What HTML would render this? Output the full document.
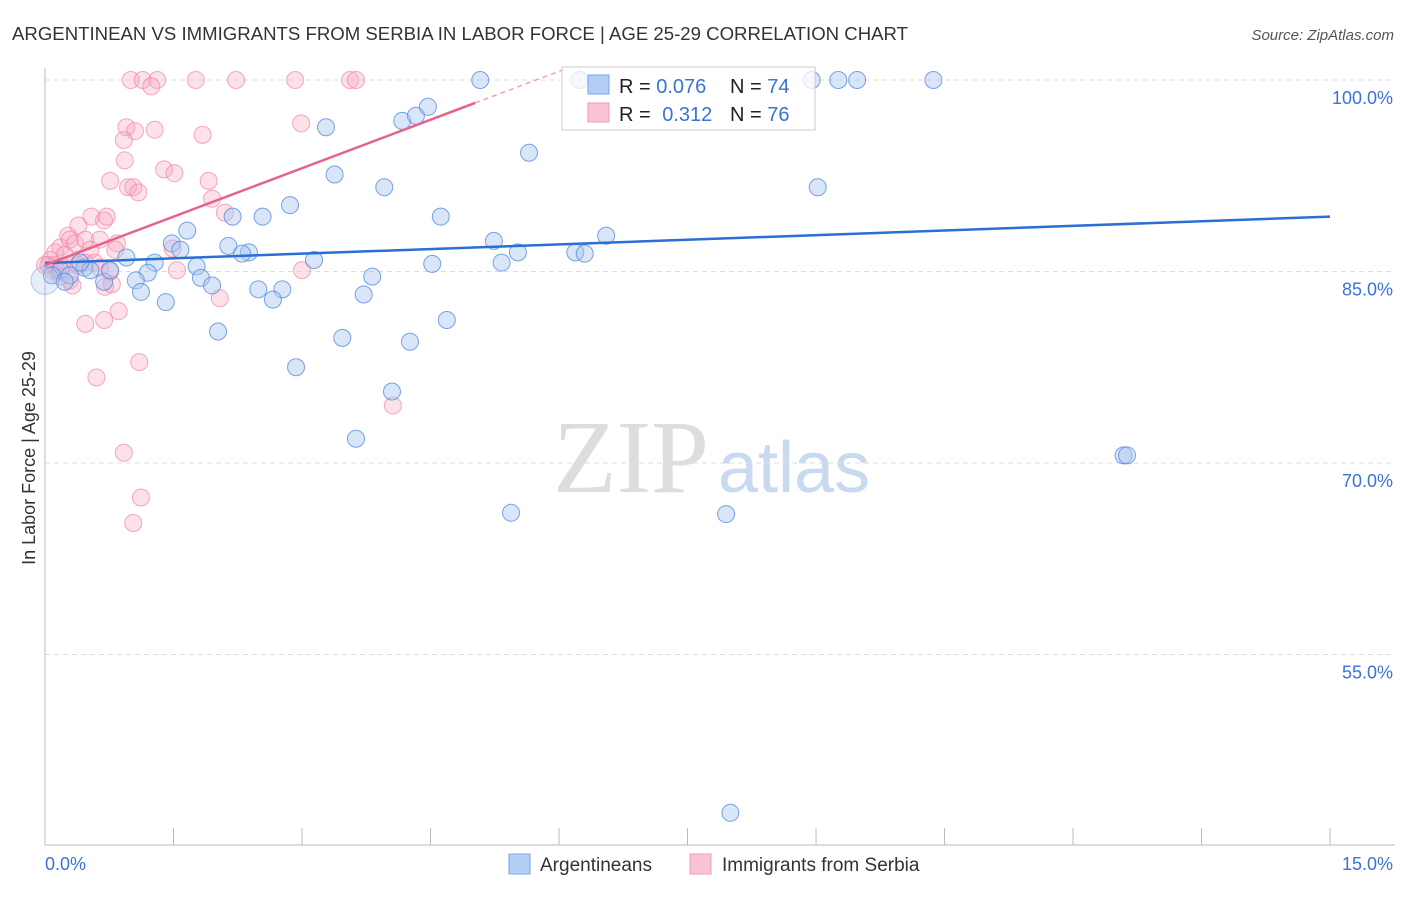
<!DOCTYPE html>
<html><head><meta charset="utf-8"><style>
body{margin:0;background:#fff;font-family:"Liberation Sans",sans-serif}
svg text{font-family:"Liberation Sans",sans-serif}
</style></head><body>
<svg id="chart" width="1406" height="892">
<text x="12" y="40" font-size="18" fill="#333" textLength="896" lengthAdjust="spacingAndGlyphs">ARGENTINEAN VS IMMIGRANTS FROM SERBIA IN LABOR FORCE | AGE 25-29 CORRELATION CHART</text>
<text x="1394" y="40" font-size="15" fill="#555" font-style="italic" text-anchor="end">Source: ZipAtlas.com</text>
<text x="35" y="458" font-size="18" fill="#333" text-anchor="middle" transform="rotate(-90 35 458)">In Labor Force | Age 25-29</text>
<text x="553" y="492" font-size="104" fill="#ddd" style="font-family:'Liberation Serif',serif">ZIP</text>
<text x="718" y="492" font-size="72" fill="#c9d9ef">atlas</text>
<g id="grid"></g><g id="pts"></g><g id="lines"></g>
<g>
<rect x="562" y="67" width="253" height="63" fill="#fff" fill-opacity="0.75" stroke="#ccc"/>
<rect x="588" y="75" width="21" height="19" fill="#b3cff5" stroke="#7aa6e6"/>
<rect x="588" y="103" width="21" height="19" fill="#fac4d4" stroke="#f09ab4"/>
<text x="619" y="93" font-size="20" fill="#222">R = <tspan fill="#3a72d8">0.076</tspan></text>
<text x="730" y="93" font-size="20" fill="#222">N = <tspan fill="#3a72d8">74</tspan></text>
<text x="619" y="121" font-size="20" fill="#222">R = <tspan dx="6" fill="#3a72d8">0.312</tspan></text>
<text x="730" y="121" font-size="20" fill="#222">N = <tspan fill="#3a72d8">76</tspan></text>
</g>
<g>
<rect x="509" y="854" width="21" height="20" fill="#b3cff5" stroke="#7aa6e6"/>
<text x="540" y="871" font-size="19" fill="#333">Argentineans</text>
<rect x="690" y="854" width="21" height="20" fill="#fac4d4" stroke="#f09ab4"/>
<text x="722" y="871" font-size="19" fill="#333">Immigrants from Serbia</text>
</g>
</svg>
<script>
const yTicks=[100,85,70,55];
const xTickLabels=["0.0%","15.0%"];
const blueX=[5.08,6.24,8.95,9.26,9.48,10.37,3.28,4.17,4.33,4.47,5.65,3.38,3.96,9.02,2.86,2.54,2.19,4.62,1.66,1.48,1.58,2.14,2.38,2.30,5.24,5.52,5.33,6.19,6.30,6.55,3.14,4.52,1.28,0.95,1.20,1.77,3.82,1.82,1.06,0.69,1.95,1.12,2.49,2.77,2.66,1.41,3.72,4.69,2.02,3.47,4.26,2.93,4.05,3.63,12.59,12.63,5.44,7.95,8.00,0.18,0.29,0.08,0.46,0.53,0.76,0.23,0.41];
const blueY=[100,100,100,100,100,100,96.3,96.8,97.2,97.9,94.3,92.6,91.6,91.6,90.2,89.3,89.3,89.3,88.2,87.2,86.7,87.0,86.5,86.4,87.4,86.5,85.7,86.5,86.4,87.8,85.9,85.6,85.7,86.1,84.9,85.4,84.6,84.5,84.3,84.2,83.9,83.4,83.6,83.6,82.8,82.6,83.2,81.2,80.3,79.8,79.5,77.5,75.6,71.9,70.6,70.6,66.1,66.0,42.6,85.1,84.7,84.7,85.3,85.1,85.1,84.2,85.7];
const pinkX=[1.00,1.14,1.31,1.76,2.23,2.92,3.56,3.63,1.24,0.95,1.05,1.28,0.92,0.93,1.39,1.51,0.76,0.97,1.03,1.09,1.91,1.84,2.99,1.95,2.10,0.54,0.69,0.72,0.39,0.27,0.18,0.12,0.29,0.35,0.47,0.64,0.84,0.82,0.53,0.23,0.06,0.04,0.12,0.20,0.35,0.47,0.58,0.64,0.15,0.29,0.32,0.70,0.78,1.54,3.00,2.04,1.49,0.86,0.69,0.47,1.10,0.60,4.06,0.92,1.12,1.03,0.39,0.76,0.08,0,0.18];
const pinkY=[100,100,100,100,100,100,100,100,99.5,96.3,96.0,96.1,95.3,93.7,93.0,92.7,92.1,91.6,91.6,91.2,92.1,95.7,96.6,90.7,89.6,89.3,89.0,89.3,88.6,87.8,86.9,86.5,87.5,87.2,87.5,87.5,87.2,86.7,86.7,86.3,85.9,85.5,85.5,85.3,85.7,85.7,85.7,85.3,85.0,84.3,83.9,83.8,84.0,85.1,85.1,82.9,86.8,81.9,81.2,80.9,77.9,76.7,74.5,70.8,67.3,65.3,85.5,85.0,85.1,85.5,84.6];
const blueTrend=[85.67,89.3];
const pinkTrend=[85.5,98.2];
const X=v=>45+v*85.67, Y=v=>80+(100-v)*191.5/15;
const NS="http://www.w3.org/2000/svg";
function mk(t,a,p){const e=document.createElementNS(NS,t);for(const k in a)e.setAttribute(k,a[k]);p.appendChild(e);return e;}
const g=document.getElementById('grid'),svg=document.getElementById('chart');
yTicks.forEach(t=>{
 const l=mk('line',{x1:45,x2:1395,y1:Y(t),y2:Y(t),stroke:'#ddd','stroke-dasharray':'5,4'},g);
 
 
 const tx=mk('text',{x:1393,y:Y(t)+24,'font-size':18,fill:'#3a72d8','text-anchor':'end'},g);
 tx.textContent=t.toFixed(1)+'%';
 
 
});
const ax=mk('line',{x1:45,x2:45,y1:68,y2:845,stroke:'#bbb'},g);


const bx=mk('line',{x1:45,x2:1395,y1:845,y2:845,stroke:'#bbb'},g);


for(let i=0;i<=10;i++){const t=mk('line',{x1:X(i*1.5),x2:X(i*1.5),y1:828,y2:845,stroke:'#bbb'},g);
 
 }
[[0,'start',45],[15,'end',1393]].forEach((d,i)=>{const t=mk('text',{x:d[2],y:870,'font-size':18,fill:'#3a72d8','text-anchor':d[1]},g);t.textContent=xTickLabels[i];
 
 });
const p=document.getElementById('pts');
pinkX.forEach((x,i)=>{const c=mk('circle',{cx:X(x),cy:Y(pinkY[i]),r:8.5,fill:'#f7a8c0','fill-opacity':0.35,stroke:'#ef86a7','stroke-opacity':0.7},p);
 
 });
blueX.forEach((x,i)=>{const c=mk('circle',{cx:X(x),cy:Y(blueY[i]),r:8.5,fill:'#a8c8f0','fill-opacity':0.45,stroke:'#4f86dd','stroke-opacity':0.75},p);
 
 });
const big=mk('circle',{cx:X(0),cy:Y(84.3),r:14,fill:'#a8c8f0','fill-opacity':0.3,stroke:'#4f86dd','stroke-opacity':0.4},p);


const L=document.getElementById('lines');
const bl=mk('line',{x1:X(0),y1:Y(blueTrend[0]),x2:X(15),y2:Y(blueTrend[1]),stroke:'#2a6fd6','stroke-width':2.5},L);


const pe=5.02, slope=(pinkTrend[1]-pinkTrend[0])/pe;
const pl=mk('line',{x1:X(0),y1:Y(pinkTrend[0]),x2:X(pe),y2:Y(pinkTrend[1]),stroke:'#e8608c','stroke-width':2.5},L);


const pd=mk('line',{x1:X(pe),y1:Y(pinkTrend[1]),x2:X(6.1),y2:Y(pinkTrend[0]+slope*6.1),stroke:'#f0a0ba','stroke-width':1.5,'stroke-dasharray':'5,4'},L);


</script>
</body></html>
